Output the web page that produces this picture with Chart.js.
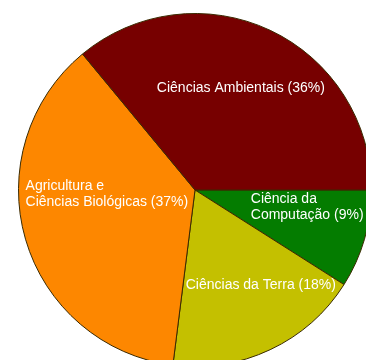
<!DOCTYPE html>
<html>
<head>
<meta charset="utf-8">
<script src="https://cdn.jsdelivr.net/npm/chart.js@4/dist/chart.umd.min.js"></script>
<style>
  html, body { margin: 0; padding: 0; background: #ffffff; }
  #frame { position: absolute; left: 0; top: 0; width: 366px; height: 360px; overflow: hidden; background: #ffffff; }
  #wrap { position: absolute; left: 18px; top: 13px; width: 354px; height: 354px; }
</style>
</head>
<body>
<div id="frame"><div id="wrap"><canvas id="c"></canvas></div></div>
<script>
// Areas in clockwise order, starting at 3 o'clock
const categories = ['Ciência da Computação', 'Ciências da Terra', 'Agricultura e Ciências Biológicas', 'Ciências Ambientais'];
const shares = [9, 18, 37, 36];
const sliceLabels = [
  ['Ciência da', 'Computação (9%)'],
  ['Ciências da Terra (18%)'],
  ['Agricultura e', 'Ciências Biológicas (37%)'],
  ['Ciências Ambientais (36%)']
];
const sliceColors = ['#047c00', '#c4c000', '#fd8700', '#770000'];

// Label anchors relative to the pie centre, in units of the outer radius
const labelPlacement = [
  { dx: 0.316, dy: 0.096, align: 'left' },
  { dx: 0.373, dy: 0.537, align: 'center' },
  { dx: -0.960, dy: 0.024, align: 'left' },
  { dx: 0.260, dy: -0.576, align: 'center' }
];

const sliceText = {
  id: 'sliceText',
  afterDatasetsDraw(chart) {
    const ctx = chart.ctx;
    const meta = chart.getDatasetMeta(0);
    ctx.save();
    ctx.font = '14px "Liberation Sans", Arial, sans-serif';
    ctx.fillStyle = '#ffffff';
    ctx.textBaseline = 'middle';
    const lineH = 15.5;
    meta.data.forEach((arc, i) => {
      const p = labelPlacement[i];
      const lines = sliceLabels[i];
      const x = arc.x + p.dx * arc.outerRadius;
      const y = arc.y + p.dy * arc.outerRadius;
      ctx.textAlign = p.align;
      const y0 = y - (lines.length - 1) * lineH / 2;
      lines.forEach((t, k) => ctx.fillText(t, x, y0 + k * lineH));
    });
    ctx.restore();
  }
};

new Chart(document.getElementById('c'), {
  type: 'pie',
  data: {
    labels: categories,
    datasets: [{
      data: shares,
      backgroundColor: sliceColors,
      borderColor: '#3a2a00',
      borderWidth: 1
    }]
  },
  options: {
    responsive: true,
    maintainAspectRatio: false,
    animation: false,
    rotation: 90,
    layout: { padding: 0 },
    plugins: {
      legend: { display: false },
      tooltip: { enabled: false }
    }
  },
  plugins: [sliceText]
});
</script>
</body>
</html>
